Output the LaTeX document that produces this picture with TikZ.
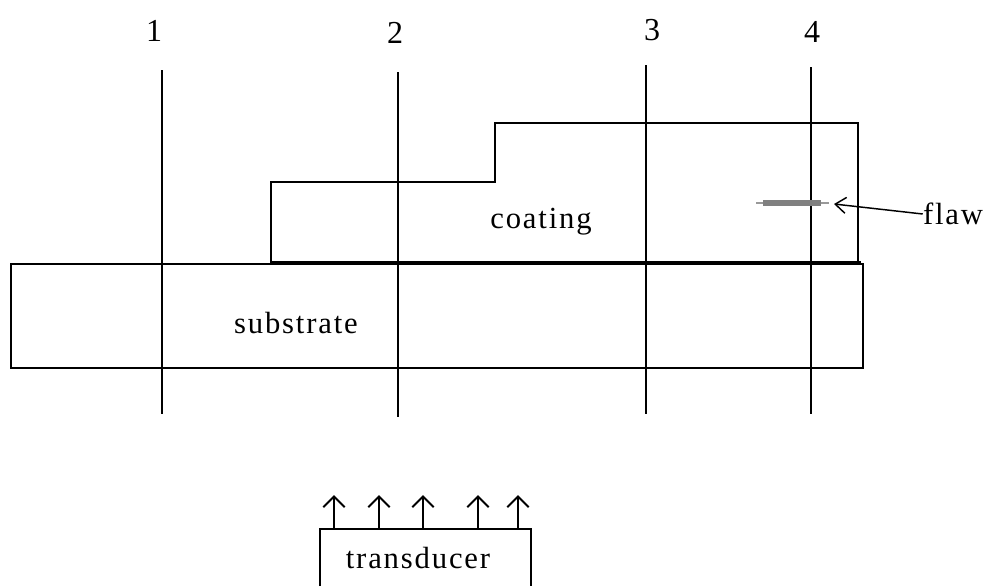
\documentclass[tikz,border=0pt]{standalone}
\usepackage{fontspec}
\setmainfont{Liberation Serif}
\newfontfamily\spaced[LetterSpace=6]{Liberation Serif}
\usetikzlibrary{arrows.meta}
\tikzset{
  ln/.style={draw=black,line width=1.5pt},
  lbl/.style={font=\fontsize{24}{26}\selectfont,inner sep=0pt,anchor=center},
  txt/.style={font=\spaced\fontsize{23}{26}\selectfont,inner sep=0pt,anchor=center},
  up/.style={draw=black,line width=1.5pt,-{Straight Barb[length=8pt,width=16pt]}},
  lead/.style={draw=black,line width=1.1pt,-{Straight Barb[length=8pt,width=12pt]}}
}
\begin{document}
\begin{tikzpicture}[x=0.75pt,y=-0.75pt]
\useasboundingbox (0,0) rectangle (984,586);
\fill[white] (0,0) rectangle (984,586);
\coordinate (t1) at (162,70); \coordinate (b1) at (162,414);
\coordinate (t2) at (398,72); \coordinate (b2) at (398,417);
\coordinate (t3) at (646,65); \coordinate (b3) at (646,414);
\coordinate (t4) at (811,67); \coordinate (b4) at (811,414);
\draw[ln] (11,264) rectangle (863,368);
\draw[ln] (271,263) -- (271,182) -- (495,182) -- (495,123) -- (858,123) -- (858,263);
\draw[draw=black,line width=3pt] (271,263) -- (861,263);
\draw[ln] (t1) -- (b1);
\draw[ln] (t2) -- (b2);
\draw[ln] (t3) -- (b3);
\draw[ln] (t4) -- (b4);
\node[lbl] (n1) at (154,31) {1};
\node[lbl] (n2) at (395,33) {2};
\node[lbl] (n3) at (652,30) {3};
\node[lbl] (n4) at (812,32) {4};
\node[txt] (coat) at (541,222) {coating};
\node[txt] (sub) at (296,323) {substrate};
\node[txt] (flaw) at (953,214) {flaw};
\node[txt] (tr) at (418,558) {transducer};
\coordinate (fa) at (756,203); \coordinate (fb) at (829,203);
\coordinate (fc) at (763,203); \coordinate (fd) at (821,203);
\draw[draw=gray!80,line width=1.5pt] (fa) -- (fb);
\draw[draw=gray,line width=4.5pt] (fc) -- (fd);
\coordinate (ft) at (834,204);
\draw[lead] (flaw.west) -- (ft);
\draw[ln] (320,586) -- (320,529) -- (531,529) -- (531,586);
\foreach \x/\n in {334/a,379/b,423/c,478/d,518/e}{
  \coordinate (s\n) at (\x,529); \coordinate (e\n) at (\x,495);
  \draw[up] (s\n) -- (e\n);
}
\end{tikzpicture}
\end{document}
